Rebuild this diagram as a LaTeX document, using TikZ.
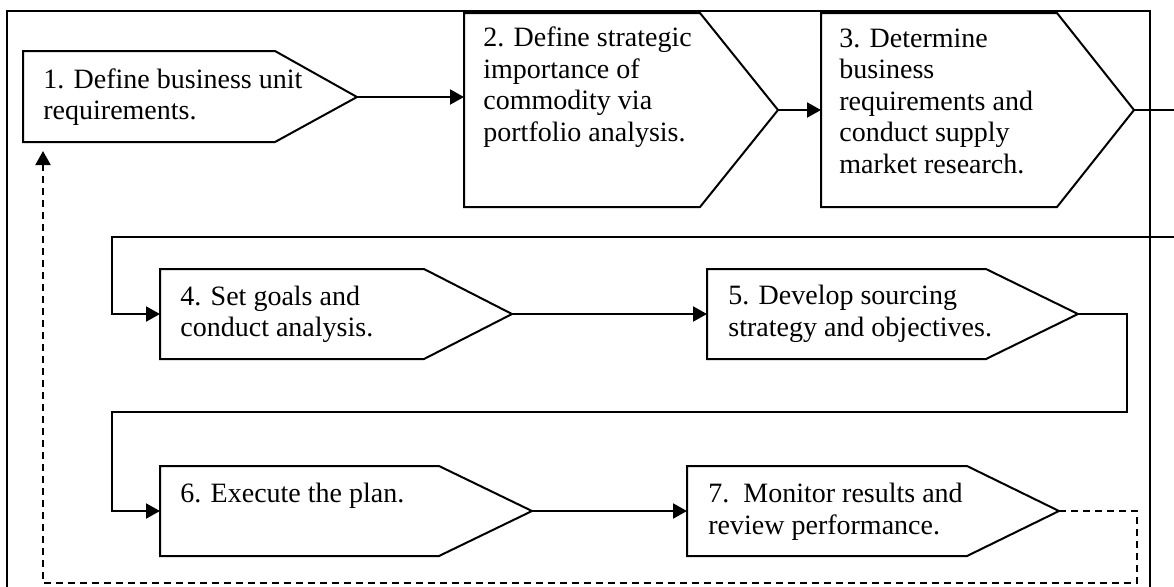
\documentclass[tikz,border=0pt]{standalone}
\usepackage{fontspec}
\setmainfont{Liberation Serif}
\usetikzlibrary{arrows.meta}
\tikzstyle{stepbox} = [draw=black, line width=1pt, fill=white]
\tikzstyle{steptext} = [anchor=base west, align=left, inner sep=0pt, font=\fontsize{14}{15.75}\selectfont]
\tikzstyle{arrow1} = [line width=1pt, -{Triangle[length=7pt, width=7.5pt]}]
\tikzstyle{arrow2} = [line width=1pt, dash pattern=on 3.5pt off 2.5pt, -{Triangle[length=7pt, width=7.5pt]}]
\tikzstyle{outerframe} = [draw=black, line width=1pt]
\begin{document}
\begin{tikzpicture}[x=0.5pt, y=-0.5pt]

    \useasboundingbox (0,0) rectangle (1174,586);
    \clip (0,0) rectangle (1174,586);

    \draw [outerframe] (7,11) rectangle (1150,640);

    % first row (text nodes sit on the baseline of their last line)
    \coordinate (p1) at (357,97);
    \draw [stepbox] (23,51) -- (275,51) -- (p1) -- (275,142) -- (23,142) -- cycle;
    \node [steptext] (t1) at (43,119.5) {1. Define business unit\\requirements.};

    \coordinate (w2) at (464,110);
    \coordinate (p2) at (778,110);
    \draw [stepbox] (464,13) -- (700,13) -- (p2) -- (700,207) -- (464,207) -- cycle;
    \node [steptext] (t2) at (483,141) {2. Define strategic\\importance of\\commodity via\\portfolio analysis.};

    \coordinate (w3) at (821,110);
    \coordinate (p3) at (1134,110);
    \draw [stepbox] (821,13) -- (1057,13) -- (p3) -- (1057,207) -- (821,207) -- cycle;
    \node [steptext] (t3) at (839,173) {3. Determine\\business\\requirements and\\conduct supply\\market research.};

    % second row
    \coordinate (w4) at (160,314);
    \coordinate (p4) at (512,314);
    \draw [stepbox] (160,269) -- (424,269) -- (p4) -- (424,359) -- (160,359) -- cycle;
    \node [steptext] (t4) at (180,336.5) {4. Set goals and\\conduct analysis.};

    \coordinate (w5) at (707,314);
    \coordinate (p5) at (1078,314);
    \draw [stepbox] (707,269) -- (986,269) -- (p5) -- (986,359) -- (707,359) -- cycle;
    \node [steptext] (t5) at (728,336) {5. Develop sourcing\\strategy and objectives.};

    % third row
    \coordinate (w6) at (160,511);
    \coordinate (p6) at (532,511);
    \draw [stepbox] (160,466) -- (439,466) -- (p6) -- (439,556) -- (160,556) -- cycle;
    \node [steptext] (t6) at (180,502.5) {6. Execute the plan.};

    \coordinate (w7) at (687,511);
    \coordinate (p7) at (1059,511);
    \draw [stepbox] (687,466) -- (967,466) -- (p7) -- (967,556) -- (687,556) -- cycle;
    \node [steptext] (t7) at (708,534) {7.\ \ Monitor results and\\review performance.};

    \coordinate (back1) at (43,151);

    \draw [arrow1] (p1) -- (p1 -| w2);
    \draw [arrow1] (p2) -- (w3);
    \draw [arrow1] (p3) -- (1190,110) |- (112,237) |- (w4);
    \draw [arrow1] (p4) -- (w5);
    \draw [arrow1] (p5) -| (1127,412) -| (112,511) -- (w6);
    \draw [arrow1] (p6) -- (w7);
    \draw [arrow2] (p7) -| (1137,583) -| (back1);

\end{tikzpicture}
\end{document}
